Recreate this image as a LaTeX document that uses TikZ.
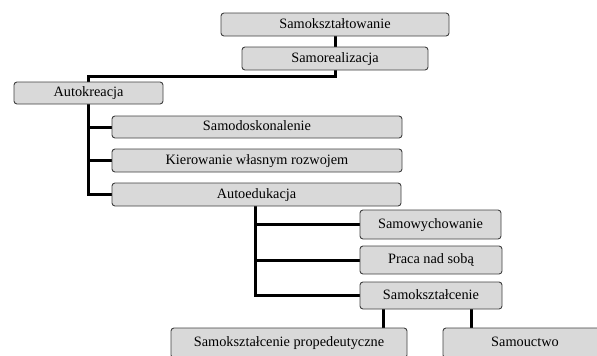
\documentclass[tikz,border=0pt]{standalone}
\usepackage{fontspec}
\setmainfont{Liberation Serif}
\newfontfamily\tnr{Liberation Serif}
\usetikzlibrary{backgrounds}
\begin{document}
\begin{tikzpicture}[x=1pt,y=-1pt,
  box/.style={draw=black!75, fill=gray!30, rounded corners=3pt, line width=0.9pt,
    inner sep=0pt, font=\tnr\fontsize{14.3}{16}\selectfont, text height=0.74em, text depth=0.02em},
  conn/.style={line width=3pt, black}]
\useasboundingbox (0,0) rectangle (597,356);
\node[box, minimum width=228pt, minimum height=23pt] (A) at (335,24.5) {Samokształtowanie};
\node[box, minimum width=186pt, minimum height=23pt] (B) at (335,58.5) {Samorealizacja};
\node[box, minimum width=149pt, minimum height=22pt] (C) at (88.5,93) {Autokreacja};
\node[box, minimum width=290pt, minimum height=22pt] (D) at (257,127) {Samodoskonalenie};
\node[box, minimum width=290pt, minimum height=23pt] (E) at (257,160.5) {Kierowanie własnym rozwojem};
\node[box, minimum width=289pt, minimum height=23pt] (F) at (256.5,194.5) {Autoedukacja};
\node[box, minimum width=141pt, minimum height=29pt] (G) at (430.5,224.5) {Samowychowanie};
\node[box, minimum width=142pt, minimum height=28pt] (H) at (431,260) {Praca nad sobą};
\node[box, minimum width=142pt, minimum height=27pt] (I) at (431,295.5) {Samokształcenie};
\node[box, minimum width=236pt, minimum height=30pt] (J) at (289,343) {Samokształcenie propedeutyczne};
\node[box, minimum width=164pt, minimum height=30pt] (K) at (525,343) {Samouctwo};
\begin{scope}[on background layer]
  \draw[conn] (A.south) -- (B.north);
  \draw[conn] (B.south) -- ++(0,6) coordinate (b1) -| (C.north);
  \draw[conn] (C.south) -- (C.south |- F.west) -- (F.west);
  \draw[conn] (C.south |- D.west) -- (D.west);
  \draw[conn] (C.south |- E.west) -- (E.west);
  \draw[conn] ([xshift=-1.5pt]F.south) -- ([xshift=-1.5pt]F.south |- I.west) -- (I.west);
  \draw[conn] ([xshift=-1.5pt]F.south |- G.west) -- (G.west);
  \draw[conn] ([xshift=-1.5pt]F.south |- H.west) -- (H.west);
  \draw[conn] ([xshift=-48pt]I.south) -- ([xshift=-48pt]I.south |- J.north);
  \draw[conn] ([xshift=40pt]I.south) -- ([xshift=40pt]I.south |- K.north);
\end{scope}
\end{tikzpicture}
\end{document}
